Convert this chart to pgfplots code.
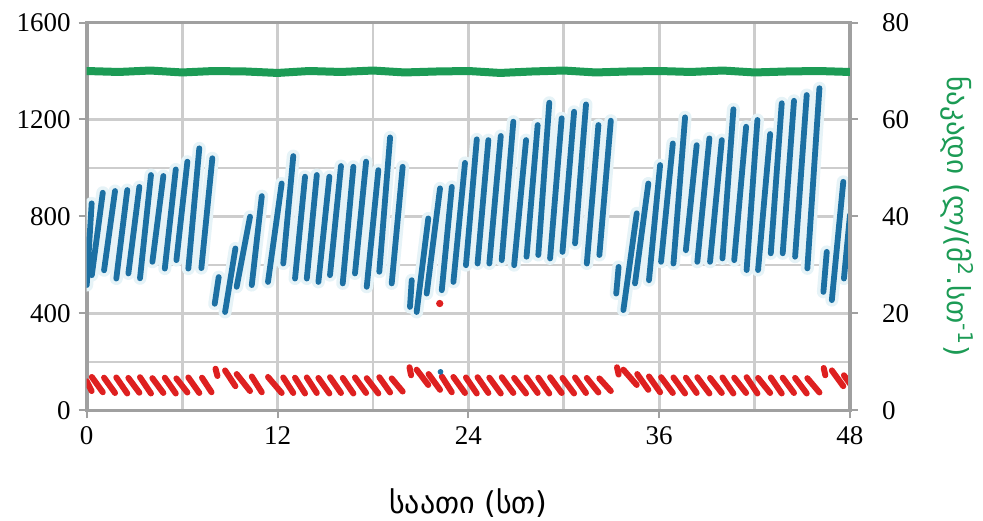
\documentclass[border=0pt]{standalone}
\usepackage{pgfplots}
\pgfplotsset{compat=1.18}
\usepackage{fontspec}
\setmainfont{Liberation Serif}
\newfontfamily\geo{DejaVu Sans}
\definecolor{cblue}{RGB}{28,112,163}
\definecolor{cred}{RGB}{222,32,32}
\definecolor{cgreen}{RGB}{28,155,85}
\definecolor{cframe}{RGB}{160,160,160}
\definecolor{cgrid}{RGB}{205,205,205}
\definecolor{chalo}{RGB}{230,243,247}

\pgfplotsset{
  base/.style={
    scale only axis, width=381.5pt, height=193.9pt,
    xmin=0, xmax=48,
    axis line style={cframe, line width=1.8pt},
    tick style={cframe, line width=1pt},
    major tick length=4pt, minor tick length=0pt,
    tick align=outside,
    ticklabel style={font=\fontsize{13.5}{13.5}\selectfont},
    /pgf/number format/assume math mode=true,
    /pgf/number format/set thousands separator={},
  },
}

\begin{document}
\begin{tikzpicture}
\begin{axis}[base, name=ax,
  ymin=0, ymax=1600,
  xtick={0,12,24,36,48}, minor xtick={6,18,30,42},
  ytick={0,400,800,1200,1600}, minor ytick={200,600,1000,1400},
  xtick pos=left, ytick pos=left,
  grid=both,
  major grid style={cgrid, line width=1.4pt},
  minor grid style={cgrid, line width=1.4pt},
  xticklabel style={yshift=-0.5pt}, yticklabel style={xshift=-0.5pt},
  xlabel={\geo საათი (სთ)},
  xlabel style={font=\fontsize{15}{15}\selectfont, yshift=-15pt},
  unbounded coords=jump,
]
% blue: rising streaks (left axis)
\addplot[chalo, line width=6.5pt, line cap=round, forget plot] coordinates {
(0,517)(0.31,854)(0.31,nan)(0.32,558)(1.01,898)(1.01,nan)(1.09,578)(1.78,905)(1.78,nan)
(1.86,544)(2.55,909)(2.55,nan)(2.62,565)(3.31,922)(3.31,nan)(3.35,545)(4.04,971)(4.04,nan)
(4.13,613)(4.82,967)(4.82,nan)(4.91,585)(5.60,994)(5.60,nan)(5.64,620)(6.33,1026)(6.33,nan)
(6.39,585)(7.08,1081)(7.08,nan)(7.21,587)(7.90,1040)(7.90,nan)
(8.05,440)(8.30,550)(8.30,nan)(8.70,406)(9.35,668)(9.35,nan)(9.43,510)(10.27,799)(10.27,nan)
(10.38,517)(11.01,884)(11.01,nan)(11.40,530)(12.26,936)(12.26,nan)(12.36,606)(12.99,1049)(12.99,nan)
(13.10,544)(13.73,964)(13.73,nan)(13.84,544)(14.47,971)(14.47,nan)(14.57,530)(15.26,964)(15.26,nan)
(15.30,558)(15.99,1008)(15.99,nan)(16.10,524)(16.77,1005)(16.77,nan)(16.87,565)(17.57,1026)(17.57,nan)
(17.61,510)(18.34,991)(18.34,nan)(18.40,572)(19.08,1126)(19.08,nan)(19.18,524)(19.87,1005)(19.87,nan)
(20.33,427)(20.44,537)(20.44,nan)(20.75,406)(21.48,792)(21.48,nan)(21.38,482)(22.22,916)(22.22,nan)
(22.33,496)(22.96,922)(22.96,nan)(23.06,530)(23.79,1021)(23.79,nan)(23.85,599)(24.53,1118)(24.53,nan)
(24.58,606)(25.26,1115)(25.26,nan)(25.32,606)(26.04,1132)(26.04,nan)(26.10,620)(26.83,1191)(26.83,nan)
(26.88,599)(27.63,1115)(27.63,nan)(27.66,634)(28.36,1177)(28.36,nan)(28.40,641)(29.09,1269)(29.09,nan)
(29.14,627)(29.87,1205)(29.87,nan)(29.92,654)(30.65,1232)(30.65,nan)(30.71,689)(31.40,1262)(31.40,nan)
(31.45,606)(32.18,1177)(32.18,nan)(32.24,641)(32.96,1195)(32.96,nan)
(33.30,482)(33.45,592)(33.45,nan)(33.75,414)(34.59,813)(34.59,nan)(34.48,524)(35.32,936)(35.32,nan)
(35.36,537)(36.06,1012)(36.06,nan)(36.12,613)(36.86,1101)(36.86,nan)(36.90,606)(37.63,1209)(37.63,nan)
(37.68,661)(38.36,1094)(38.36,nan)(38.40,613)(39.16,1122)(39.16,nan)(39.20,613)(39.94,1115)(39.94,nan)
(39.98,627)(40.67,1242)(40.67,nan)(40.72,620)(41.47,1170)(41.47,nan)(41.50,579)(42.18,1198)(42.18,nan)
(42.22,579)(42.98,1140)(42.98,nan)(43.02,648)(43.71,1267)(43.71,nan)(43.77,648)(44.48,1277)(44.48,nan)
(44.55,634)(45.28,1301)(45.28,nan)(45.32,586)(46.08,1329)(46.08,nan)
(46.33,489)(46.54,654)(46.54,nan)(46.86,455)(47.58,943)(47.58,nan)(47.62,544)(48.0,806)
};
\addplot[cblue, line width=2.9pt, line cap=round] coordinates {
(0,517)(0.31,854)(0.31,nan)(0.32,558)(1.01,898)(1.01,nan)(1.09,578)(1.78,905)(1.78,nan)
(1.86,544)(2.55,909)(2.55,nan)(2.62,565)(3.31,922)(3.31,nan)(3.35,545)(4.04,971)(4.04,nan)
(4.13,613)(4.82,967)(4.82,nan)(4.91,585)(5.60,994)(5.60,nan)(5.64,620)(6.33,1026)(6.33,nan)
(6.39,585)(7.08,1081)(7.08,nan)(7.21,587)(7.90,1040)(7.90,nan)
(8.05,440)(8.30,550)(8.30,nan)(8.70,406)(9.35,668)(9.35,nan)(9.43,510)(10.27,799)(10.27,nan)
(10.38,517)(11.01,884)(11.01,nan)(11.40,530)(12.26,936)(12.26,nan)(12.36,606)(12.99,1049)(12.99,nan)
(13.10,544)(13.73,964)(13.73,nan)(13.84,544)(14.47,971)(14.47,nan)(14.57,530)(15.26,964)(15.26,nan)
(15.30,558)(15.99,1008)(15.99,nan)(16.10,524)(16.77,1005)(16.77,nan)(16.87,565)(17.57,1026)(17.57,nan)
(17.61,510)(18.34,991)(18.34,nan)(18.40,572)(19.08,1126)(19.08,nan)(19.18,524)(19.87,1005)(19.87,nan)
(20.33,427)(20.44,537)(20.44,nan)(20.75,406)(21.48,792)(21.48,nan)(21.38,482)(22.22,916)(22.22,nan)
(22.33,496)(22.96,922)(22.96,nan)(23.06,530)(23.79,1021)(23.79,nan)(23.85,599)(24.53,1118)(24.53,nan)
(24.58,606)(25.26,1115)(25.26,nan)(25.32,606)(26.04,1132)(26.04,nan)(26.10,620)(26.83,1191)(26.83,nan)
(26.88,599)(27.63,1115)(27.63,nan)(27.66,634)(28.36,1177)(28.36,nan)(28.40,641)(29.09,1269)(29.09,nan)
(29.14,627)(29.87,1205)(29.87,nan)(29.92,654)(30.65,1232)(30.65,nan)(30.71,689)(31.40,1262)(31.40,nan)
(31.45,606)(32.18,1177)(32.18,nan)(32.24,641)(32.96,1195)(32.96,nan)
(33.30,482)(33.45,592)(33.45,nan)(33.75,414)(34.59,813)(34.59,nan)(34.48,524)(35.32,936)(35.32,nan)
(35.36,537)(36.06,1012)(36.06,nan)(36.12,613)(36.86,1101)(36.86,nan)(36.90,606)(37.63,1209)(37.63,nan)
(37.68,661)(38.36,1094)(38.36,nan)(38.40,613)(39.16,1122)(39.16,nan)(39.20,613)(39.94,1115)(39.94,nan)
(39.98,627)(40.67,1242)(40.67,nan)(40.72,620)(41.47,1170)(41.47,nan)(41.50,579)(42.18,1198)(42.18,nan)
(42.22,579)(42.98,1140)(42.98,nan)(43.02,648)(43.71,1267)(43.71,nan)(43.77,648)(44.48,1277)(44.48,nan)
(44.55,634)(45.28,1301)(45.28,nan)(45.32,586)(46.08,1329)(46.08,nan)
(46.33,489)(46.54,654)(46.54,nan)(46.86,455)(47.58,943)(47.58,nan)(47.62,544)(48.0,806)
};
% red: falling dashes (left axis)
\addplot[cred, line width=3pt, line cap=round] coordinates {
(0.0,120)(0.31,80)(0.31,nan)(0.32,138)(1.01,75)(1.01,nan)(1.09,135)(1.78,72)(1.78,nan)
(1.86,136)(2.55,70)(2.55,nan)(2.62,134)(3.31,73)(3.31,nan)(3.35,137)(4.04,70)(4.04,nan)
(4.13,133)(4.82,72)(4.82,nan)(4.91,135)(5.60,70)(5.60,nan)(5.64,132)(6.33,74)(6.33,nan)
(6.39,136)(7.08,72)(7.08,nan)(7.25,135)(7.85,75)(7.85,nan)
(8.10,172)(8.22,142)(8.22,nan)(8.70,165)(9.35,100)(9.35,nan)(9.43,150)(10.27,80)(10.27,nan)
(10.38,140)(11.01,75)(11.01,nan)(11.40,138)(12.26,72)(12.26,nan)(12.36,136)(12.99,72)(12.99,nan)
(13.10,135)(13.73,70)(13.73,nan)(13.84,136)(14.47,72)(14.47,nan)(14.57,134)(15.26,70)(15.26,nan)
(15.30,137)(15.99,72)(15.99,nan)(16.10,134)(16.77,70)(16.77,nan)(16.87,136)(17.57,72)(17.57,nan)
(17.61,133)(18.34,70)(18.34,nan)(18.40,137)(19.08,74)(19.08,nan)(19.18,132)(19.87,78)(19.87,nan)
(20.30,178)(20.40,145)(20.40,nan)(20.75,168)(21.48,105)(21.48,nan)(21.50,150)(22.22,85)(22.22,nan)
(22.33,140)(22.96,75)(22.96,nan)(23.06,138)(23.79,72)(23.79,nan)(23.85,136)(24.53,70)(24.53,nan)
(24.58,137)(25.26,72)(25.26,nan)(25.32,135)(26.04,70)(26.04,nan)(26.10,137)(26.83,72)(26.83,nan)
(26.88,134)(27.63,70)(27.63,nan)(27.66,136)(28.36,72)(28.36,nan)(28.40,135)(29.09,70)(29.09,nan)
(29.14,137)(29.87,72)(29.87,nan)(29.92,134)(30.65,70)(30.65,nan)(30.71,136)(31.40,72)(31.40,nan)
(31.45,134)(32.18,74)(32.18,nan)(32.24,132)(32.96,80)(32.96,nan)
(33.35,178)(33.45,148)(33.45,nan)(33.75,168)(34.59,105)(34.59,nan)(34.62,150)(35.32,85)(35.32,nan)
(35.36,140)(36.06,75)(36.06,nan)(36.12,137)(36.86,72)(36.86,nan)(36.90,136)(37.63,70)(37.63,nan)
(37.68,135)(38.36,72)(38.36,nan)(38.40,137)(39.16,70)(39.16,nan)(39.20,134)(39.94,72)(39.94,nan)
(39.98,136)(40.67,70)(40.67,nan)(40.72,135)(41.47,72)(41.47,nan)(41.50,137)(42.18,70)(42.18,nan)
(42.22,134)(42.98,72)(42.98,nan)(43.02,136)(43.71,70)(43.71,nan)(43.77,135)(44.48,72)(44.48,nan)
(44.55,134)(45.28,70)(45.28,nan)(45.32,133)(46.08,74)(46.08,nan)
(46.35,175)(46.45,145)(46.45,nan)(46.86,165)(47.58,100)(47.58,nan)(47.62,145)(48.0,110)
};
\addplot[only marks, mark=*, mark size=1.6pt, cred] coordinates {(22.2,441)};
\addplot[only marks, mark=*, mark size=1.2pt, cblue] coordinates {(22.25,159)};
\end{axis}
\begin{axis}[base,
  ymin=0, ymax=80,
  axis x line=none, axis y line*=right,
  ytick={0,20,40,60,80},
  yticklabel style={xshift=8.5pt},
  ylabel={\geo ნაკადი (ლ/(მ\textsuperscript{2}.სთ\textsuperscript{-1})},
  ylabel style={rotate=180, font=\fontsize{14.5}{14.5}\selectfont, color=cgreen},
  ylabel shift=9pt,
]
% green: flux (right axis)
\addplot[cgreen, line width=4pt, line cap=round] coordinates {
(0,70.0)(2,69.8)(4,70.1)(6,69.7)(8,70.0)(10,69.9)(12,69.6)(14,70.0)(16,69.8)(18,70.1)
(20,69.7)(22,69.9)(24,70.0)(26,69.6)(28,69.9)(30,70.1)(32,69.7)(34,69.9)(36,70.0)
(38,69.8)(40,70.1)(42,69.7)(44,69.9)(46,70.0)(48,69.8)
};
\end{axis}
\pgfresetboundingbox
\path ([xshift=-43.35pt,yshift=-55pt]ax.south west) rectangle ([xshift=66.5pt,yshift=11.25pt]ax.north east);
\end{tikzpicture}
\end{document}
